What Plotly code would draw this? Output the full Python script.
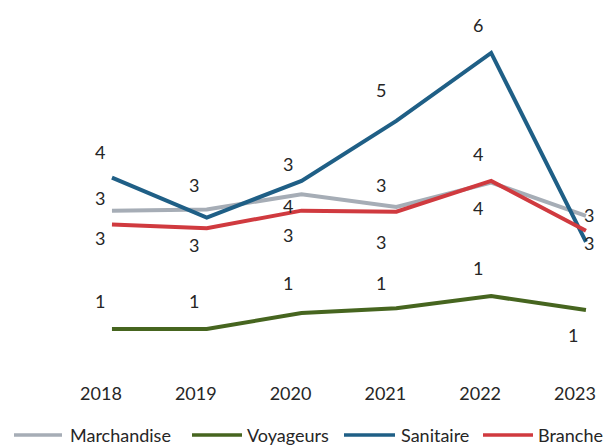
import plotly.graph_objects as go

# ---------------- data ----------------
years = ["2018", "2019", "2020", "2021", "2022", "2023"]

marchandise = [2.83, 2.85, 3.14, 2.90, 3.36, 2.73]
voyageurs = [0.60, 0.60, 0.90, 0.99, 1.22, 0.96]
sanitaire = [3.45, 2.70, 3.39, 4.52, 5.80, 2.24]
branche = [2.57, 2.50, 2.83, 2.81, 3.39, 2.45]

# displayed (rounded) data labels
marchandise_labels = ["3", "", "4", "3", "4", "3"]
voyageurs_labels = ["1", "1", "1", "1", "1", "1"]
sanitaire_labels = ["4", "3", "3", "5", "6", "3"]
branche_labels = ["3", "3", "3", "3", "4", ""]

series_names = ["Marchandise", "Voyageurs", "Sanitaire", "Branche"]

# ---------------- styles ----------------
colors = {
    "Marchandise": "#A6ADB6",
    "Voyageurs": "#46651F",
    "Sanitaire": "#1F5F86",
    "Branche": "#D03A3F",
}
# label offsets in pixels (style only)
label_dy = {
    "Marchandise": [13, 0, -12, 22, 28, 1],
    "Voyageurs": [28, 28, 30, 25, 28, -25],
    "Sanitaire": [26, 33, 17, 31, 28, -1],
    "Branche": [-14, -17, -24, -30, -27, 0],
}
label_dx = {
    "Marchandise": [-12, -13, -14, -15, -13, 3],
    "Voyageurs": [-12, -13, -14, -15, -13, -13],
    "Sanitaire": [-12, -13, -14, -15, -13, 3],
    "Branche": [-12, -13, -14, -15, -13, -13],
}

FONT = "Segoe UI, Lato, Noto Sans, sans-serif"
TXT = "#262626"
W, H = 605, 448
PLOT_H = 368

values = {
    "Marchandise": marchandise,
    "Voyageurs": voyageurs,
    "Sanitaire": sanitaire,
    "Branche": branche,
}
labels = {
    "Marchandise": marchandise_labels,
    "Voyageurs": voyageurs_labels,
    "Sanitaire": sanitaire_labels,
    "Branche": branche_labels,
}

fig = go.Figure()
annotations = []
for name in series_names:
    fig.add_trace(go.Scatter(
        x=years, y=values[name], mode="lines", name=name,
        line=dict(color=colors[name], width=4),
        showlegend=False, hoverinfo="skip",
    ))
    for i, (v, t) in enumerate(zip(values[name], labels[name])):
        if not t:
            continue
        # category axes take the category index for annotation positions
        annotations.append(dict(
            x=i, y=v, xref="x", yref="y", text=t, showarrow=False,
            xanchor="center", yanchor="middle",
            xshift=label_dx[name][i], yshift=label_dy[name][i],
            font=dict(family=FONT, size=18, color=TXT),
        ))

# manual legend (paper coordinates; margins are 0 left/right/top)
legend_line_px = [(14, 62), (192, 242), (344, 395), (483, 533)]
legend_text_px = [68, 245, 399, 536]
legend_y_px = 435
shapes = []
ly = (PLOT_H - legend_y_px) / PLOT_H
for name, (x0, x1), tx in zip(series_names, legend_line_px, legend_text_px):
    shapes.append(dict(
        type="line", xref="paper", yref="paper",
        x0=x0 / W, x1=x1 / W, y0=ly, y1=ly,
        line=dict(color=colors[name], width=3.5),
    ))
    annotations.append(dict(
        x=tx / W, y=ly, xref="paper", yref="paper", text=name,
        showarrow=False, xanchor="left", yanchor="middle",
        font=dict(family=FONT, size=18, color=TXT),
    ))

fig.update_layout(
    width=W, height=H,
    margin=dict(l=0, r=0, t=0, b=H - PLOT_H, pad=0),
    paper_bgcolor="white", plot_bgcolor="white",
    showlegend=False,
    annotations=annotations,
    shapes=shapes,
    xaxis=dict(
        type="category", range=[-1.181, 5.201],
        showgrid=False, zeroline=False, showline=False, ticks="",
        ticklabelshift=-11, ticklabelstandoff=13,
        tickfont=dict(family=FONT, size=18, color=TXT),
        fixedrange=True,
    ),
    yaxis=dict(
        range=[-0.134, 6.797], visible=False, fixedrange=True,
    ),
)

fig.write_html("out.html", post_script="document.body.style.margin='0';",
               config={"displayModeBar": False})
